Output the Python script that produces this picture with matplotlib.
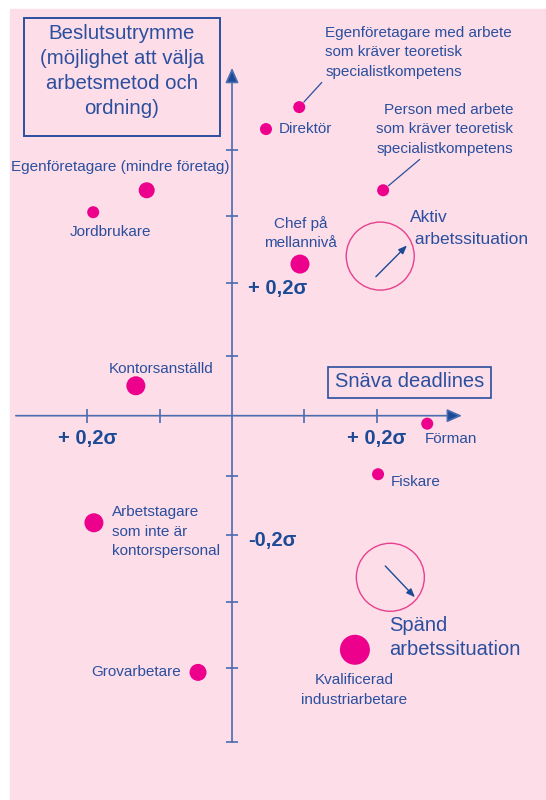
import matplotlib.pyplot as plt
from matplotlib.patches import Rectangle

plt.rcParams['font.family'] = ['Liberation Sans', 'DejaVu Sans']

# occupational groups, positions in sigma units (x = snäva deadlines, y = beslutsutrymme)
groups = ['Egenföretagare med arbete\nsom kräver teoretisk\nspecialistkompetens',
          'Direktör',
          'Person med arbete\nsom kräver teoretisk\nspecialistkompetens',
          'Egenföretagare (mindre företag)',
          'Jordbrukare',
          'Chef på\nmellannivå',
          'Kontorsanställd',
          'Förman',
          'Fiskare',
          'Arbetstagare\nsom inte är\nkontorspersonal',
          'Kvalificerad\nindustriarbetare',
          'Grovarbetare']
x_vals = [0.093, 0.047, 0.209, -0.118, -0.192, 0.094, -0.133, 0.270, 0.202, -0.191, 0.170, -0.047]
y_vals = [0.464, 0.431, 0.339, 0.339, 0.306, 0.228, 0.045, -0.012, -0.088, -0.161, -0.352, -0.386]
dot_diam = [12, 12, 12, 16, 12, 19, 19, 12, 12, 19, 30, 17]   # pixels

x_ticks = [-0.2, -0.1, 0.1, 0.2]
y_ticks = [0.40, 0.30, 0.20, 0.09, -0.09, -0.18, -0.28, -0.38, -0.49]
x_tick_labels = {-0.2: '+ 0,2σ', 0.2: '+ 0,2σ'}
y_tick_labels = {0.20: '+ 0,2σ', -0.18: '-0,2σ'}

BLUE = '#2b4f9e'
DARK = '#1d4a96'
AXIS = '#4a6cb0'
MAGENTA = '#ec008c'
PINK = '#fcdde8'

fig = plt.figure(figsize=(5.46, 8.0), dpi=100, facecolor='white')
ax = fig.add_axes([0, 0, 1, 1])
ax.set_xlim(-0.3209, 0.4343)
ax.set_ylim(-0.5779, 0.6251)
ax.axis('off')
ax.add_patch(Rectangle((10 / 546, 0), 536 / 546, 791 / 800,
                       transform=ax.transAxes, color=PINK, zorder=0))

# axes with arrow heads
ax.annotate('', xy=(0.318, 0), xytext=(-0.299, 0),
            arrowprops=dict(arrowstyle='-|>,head_length=0.9,head_width=0.4',
                            lw=1.2, shrinkA=0, shrinkB=0, fc=DARK, ec=AXIS))
ax.annotate('', xy=(0, 0.523), xytext=(0, -0.491),
            arrowprops=dict(arrowstyle='-|>,head_length=0.9,head_width=0.4',
                            lw=1.2, shrinkA=0, shrinkB=0, fc=DARK, ec=AXIS))
ax.plot(x_ticks, [0] * len(x_ticks), ls='none', marker='|', ms=10, mew=1.2, color=AXIS)
ax.plot([0] * len(y_ticks), y_ticks, ls='none', marker='_', ms=8, mew=1.2, color=AXIS)

for v, t in x_tick_labels.items():
    ax.text(v, -0.035, t, ha='center', va='center', fontsize=14.5, fontweight='bold', color=DARK)
for v, t in y_tick_labels.items():
    ax.text(0.022, v - 0.008, t, ha='left', va='center', fontsize=14.5, fontweight='bold', color=DARK)

# dots
ax.scatter(x_vals, y_vals, s=[(d * 0.72) ** 2 for d in dot_diam], color=MAGENTA,
           edgecolors='none', zorder=3)

# label placement (offset in pixels, alignment)
offsets = [(26, 55, 'left'), (13, 0, 'left'), (130, 61, 'right'), (-26, 23, 'center'),
           (17, -20, 'center'), (1, 31, 'center'), (25, 17, 'center'), (-2, -15, 'left'),
           (13, -8, 'left'), (18, -9, 'left'), (-1, -40, 'center'), (-17, 0, 'right')]
leaders = {0: (0.0, 0.0), 2: (0.35, 0.0)}
for i, (name, x, y) in enumerate(zip(groups, x_vals, y_vals)):
    dx, dy, ha = offsets[i]
    arrow = None
    if i in leaders:
        arrow = dict(arrowstyle='-', color=BLUE, lw=0.9, shrinkA=1, shrinkB=5,
                     relpos=leaders[i])
    ax.annotate(name, (x, y), xytext=(dx, dy), textcoords='offset pixels',
                ha=ha, va='center', multialignment=ha, fontsize=11, color=BLUE,
                linespacing=1.5, arrowprops=arrow, zorder=4)

# active / strained circles
ax.scatter([0.205, 0.219], [0.240, -0.243], s=(68 * 0.72) ** 2, facecolors='none',
           edgecolors='#e8408f', linewidths=1.0, zorder=2)
ax.annotate('', xy=(0.242, 0.256), xytext=(0.199, 0.209),
            arrowprops=dict(arrowstyle='-|>,head_length=0.5,head_width=0.2', color=DARK,
                            lw=1.0, shrinkA=0, shrinkB=0))
ax.annotate('', xy=(0.253, -0.273), xytext=(0.212, -0.226),
            arrowprops=dict(arrowstyle='-|>,head_length=0.5,head_width=0.2', color=DARK,
                            lw=1.0, shrinkA=0, shrinkB=0))
ax.text(0.246, 0.2815, 'Aktiv\n arbetssituation', ha='left', va='center', fontsize=12.5,
        color=BLUE, linespacing=1.55)
ax.text(0.217, -0.3335, 'Spänd\narbetssituation', ha='left', va='center', fontsize=14.5,
        color=BLUE, linespacing=1.3)

# boxes
ax.text(0.245, 0.051, 'Snäva deadlines', ha='center', va='center', fontsize=14.5, color=BLUE)
ax.add_patch(Rectangle((328 / 546, 1 - 398 / 800), 163 / 546, 31 / 800,
                       transform=ax.transAxes, fill=False, ec=BLUE, lw=1.2))
ax.text(122 / 546, 1 - 71 / 800, 'Beslutsutrymme\n(möjlighet att välja\narbetsmetod och\nordning)',
        transform=ax.transAxes, ha='center', va='center', fontsize=14.7, color=BLUE,
        linespacing=1.42)
ax.add_patch(Rectangle((24 / 546, 1 - 136 / 800), 196 / 546, 118 / 800,
                       transform=ax.transAxes, fill=False, ec=BLUE, lw=1.4))

fig.savefig('out.png', dpi=100, facecolor='white')
